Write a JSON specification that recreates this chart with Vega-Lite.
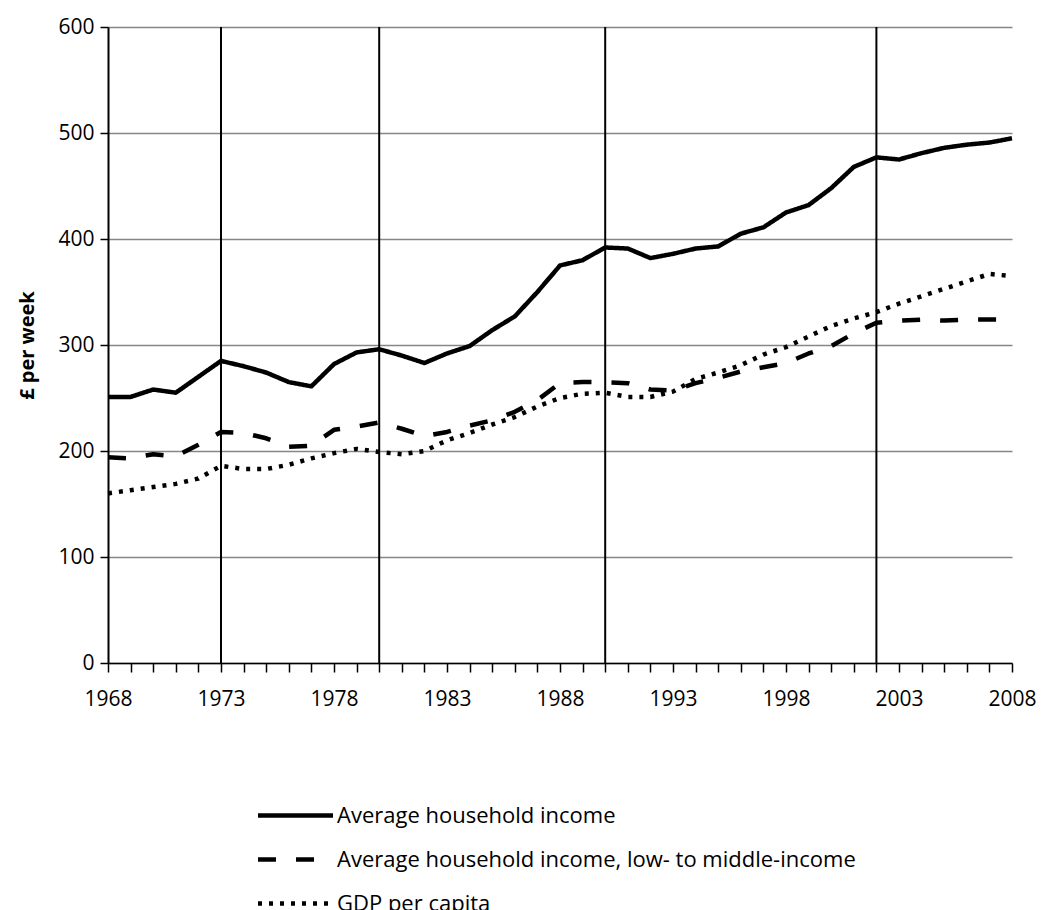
{
  "$schema": "https://vega.github.io/schema/vega-lite/v6.json",
  "autosize": {"type": "none"},
  "width": 904,
  "height": 636,
  "padding": {"left": 108, "top": 27, "right": 29, "bottom": 247},
  "background": "white",
  "config": {"view": {"stroke": null}, "font": "Open Sans"},
  "datasets": {
    "rules": [{"year": 1973}, {"year": 1980}, {"year": 1990}, {"year": 2002}],
    "series": [
      {"year": 1968, "series": "Average household income", "value": 251},
      {"year": 1969, "series": "Average household income", "value": 251},
      {"year": 1970, "series": "Average household income", "value": 258},
      {"year": 1971, "series": "Average household income", "value": 255},
      {"year": 1972, "series": "Average household income", "value": 270},
      {"year": 1973, "series": "Average household income", "value": 285},
      {"year": 1974, "series": "Average household income", "value": 280},
      {"year": 1975, "series": "Average household income", "value": 274},
      {"year": 1976, "series": "Average household income", "value": 265},
      {"year": 1977, "series": "Average household income", "value": 261},
      {"year": 1978, "series": "Average household income", "value": 282},
      {"year": 1979, "series": "Average household income", "value": 293},
      {"year": 1980, "series": "Average household income", "value": 296},
      {"year": 1981, "series": "Average household income", "value": 290},
      {"year": 1982, "series": "Average household income", "value": 283},
      {"year": 1983, "series": "Average household income", "value": 292},
      {"year": 1984, "series": "Average household income", "value": 299},
      {"year": 1985, "series": "Average household income", "value": 314},
      {"year": 1986, "series": "Average household income", "value": 327},
      {"year": 1987, "series": "Average household income", "value": 350},
      {"year": 1988, "series": "Average household income", "value": 375},
      {"year": 1989, "series": "Average household income", "value": 380},
      {"year": 1990, "series": "Average household income", "value": 392},
      {"year": 1991, "series": "Average household income", "value": 391},
      {"year": 1992, "series": "Average household income", "value": 382},
      {"year": 1993, "series": "Average household income", "value": 386},
      {"year": 1994, "series": "Average household income", "value": 391},
      {"year": 1995, "series": "Average household income", "value": 393},
      {"year": 1996, "series": "Average household income", "value": 405},
      {"year": 1997, "series": "Average household income", "value": 411},
      {"year": 1998, "series": "Average household income", "value": 425},
      {"year": 1999, "series": "Average household income", "value": 432},
      {"year": 2000, "series": "Average household income", "value": 448},
      {"year": 2001, "series": "Average household income", "value": 468},
      {"year": 2002, "series": "Average household income", "value": 477},
      {"year": 2003, "series": "Average household income", "value": 475},
      {"year": 2004, "series": "Average household income", "value": 481},
      {"year": 2005, "series": "Average household income", "value": 486},
      {"year": 2006, "series": "Average household income", "value": 489},
      {"year": 2007, "series": "Average household income", "value": 491},
      {"year": 2008, "series": "Average household income", "value": 495},
      {"year": 1968, "series": "Average household income, low- to middle-income", "value": 194},
      {"year": 1969, "series": "Average household income, low- to middle-income", "value": 193},
      {"year": 1970, "series": "Average household income, low- to middle-income", "value": 197},
      {"year": 1971, "series": "Average household income, low- to middle-income", "value": 195},
      {"year": 1972, "series": "Average household income, low- to middle-income", "value": 206},
      {"year": 1973, "series": "Average household income, low- to middle-income", "value": 218},
      {"year": 1974, "series": "Average household income, low- to middle-income", "value": 217},
      {"year": 1975, "series": "Average household income, low- to middle-income", "value": 212},
      {"year": 1976, "series": "Average household income, low- to middle-income", "value": 204},
      {"year": 1977, "series": "Average household income, low- to middle-income", "value": 205},
      {"year": 1978, "series": "Average household income, low- to middle-income", "value": 220},
      {"year": 1979, "series": "Average household income, low- to middle-income", "value": 223},
      {"year": 1980, "series": "Average household income, low- to middle-income", "value": 227},
      {"year": 1981, "series": "Average household income, low- to middle-income", "value": 221},
      {"year": 1982, "series": "Average household income, low- to middle-income", "value": 214},
      {"year": 1983, "series": "Average household income, low- to middle-income", "value": 218},
      {"year": 1984, "series": "Average household income, low- to middle-income", "value": 224},
      {"year": 1985, "series": "Average household income, low- to middle-income", "value": 229},
      {"year": 1986, "series": "Average household income, low- to middle-income", "value": 237},
      {"year": 1987, "series": "Average household income, low- to middle-income", "value": 248},
      {"year": 1988, "series": "Average household income, low- to middle-income", "value": 264},
      {"year": 1989, "series": "Average household income, low- to middle-income", "value": 265},
      {"year": 1990, "series": "Average household income, low- to middle-income", "value": 265},
      {"year": 1991, "series": "Average household income, low- to middle-income", "value": 264},
      {"year": 1992, "series": "Average household income, low- to middle-income", "value": 258},
      {"year": 1993, "series": "Average household income, low- to middle-income", "value": 257},
      {"year": 1994, "series": "Average household income, low- to middle-income", "value": 264},
      {"year": 1995, "series": "Average household income, low- to middle-income", "value": 269},
      {"year": 1996, "series": "Average household income, low- to middle-income", "value": 275},
      {"year": 1997, "series": "Average household income, low- to middle-income", "value": 279},
      {"year": 1998, "series": "Average household income, low- to middle-income", "value": 283},
      {"year": 1999, "series": "Average household income, low- to middle-income", "value": 292},
      {"year": 2000, "series": "Average household income, low- to middle-income", "value": 299},
      {"year": 2001, "series": "Average household income, low- to middle-income", "value": 311},
      {"year": 2002, "series": "Average household income, low- to middle-income", "value": 321},
      {"year": 2003, "series": "Average household income, low- to middle-income", "value": 323},
      {"year": 2004, "series": "Average household income, low- to middle-income", "value": 324},
      {"year": 2005, "series": "Average household income, low- to middle-income", "value": 323},
      {"year": 2006, "series": "Average household income, low- to middle-income", "value": 324},
      {"year": 2007, "series": "Average household income, low- to middle-income", "value": 324},
      {"year": 2008, "series": "Average household income, low- to middle-income", "value": 324},
      {"year": 1968, "series": "GDP per capita", "value": 160},
      {"year": 1969, "series": "GDP per capita", "value": 163},
      {"year": 1970, "series": "GDP per capita", "value": 166},
      {"year": 1971, "series": "GDP per capita", "value": 169},
      {"year": 1972, "series": "GDP per capita", "value": 174},
      {"year": 1973, "series": "GDP per capita", "value": 186},
      {"year": 1974, "series": "GDP per capita", "value": 183},
      {"year": 1975, "series": "GDP per capita", "value": 183},
      {"year": 1976, "series": "GDP per capita", "value": 187},
      {"year": 1977, "series": "GDP per capita", "value": 193},
      {"year": 1978, "series": "GDP per capita", "value": 198},
      {"year": 1979, "series": "GDP per capita", "value": 202},
      {"year": 1980, "series": "GDP per capita", "value": 199},
      {"year": 1981, "series": "GDP per capita", "value": 197},
      {"year": 1982, "series": "GDP per capita", "value": 200},
      {"year": 1983, "series": "GDP per capita", "value": 210},
      {"year": 1984, "series": "GDP per capita", "value": 217},
      {"year": 1985, "series": "GDP per capita", "value": 225},
      {"year": 1986, "series": "GDP per capita", "value": 232},
      {"year": 1987, "series": "GDP per capita", "value": 242},
      {"year": 1988, "series": "GDP per capita", "value": 250},
      {"year": 1989, "series": "GDP per capita", "value": 254},
      {"year": 1990, "series": "GDP per capita", "value": 255},
      {"year": 1991, "series": "GDP per capita", "value": 251},
      {"year": 1992, "series": "GDP per capita", "value": 251},
      {"year": 1993, "series": "GDP per capita", "value": 256},
      {"year": 1994, "series": "GDP per capita", "value": 268},
      {"year": 1995, "series": "GDP per capita", "value": 274},
      {"year": 1996, "series": "GDP per capita", "value": 281},
      {"year": 1997, "series": "GDP per capita", "value": 291},
      {"year": 1998, "series": "GDP per capita", "value": 298},
      {"year": 1999, "series": "GDP per capita", "value": 308},
      {"year": 2000, "series": "GDP per capita", "value": 318},
      {"year": 2001, "series": "GDP per capita", "value": 325},
      {"year": 2002, "series": "GDP per capita", "value": 331},
      {"year": 2003, "series": "GDP per capita", "value": 339},
      {"year": 2004, "series": "GDP per capita", "value": 346},
      {"year": 2005, "series": "GDP per capita", "value": 353},
      {"year": 2006, "series": "GDP per capita", "value": 360},
      {"year": 2007, "series": "GDP per capita", "value": 367},
      {"year": 2008, "series": "GDP per capita", "value": 365}
    ]
  },
  "layer": [
    {
      "data": {"name": "rules"},
      "mark": {"type": "rule", "color": "black", "strokeWidth": 2},
      "encoding": {
        "x": {"field": "year", "type": "quantitative", "scale": {"domain": [1968, 2008], "nice": false, "zero": false}}
      }
    },
    {
      "data": {"name": "series"},
      "mark": {"type": "line", "color": "black", "strokeWidth": 4.5, "strokeJoin": "round"},
      "encoding": {
        "x": {
          "field": "year",
          "type": "quantitative",
          "scale": {"domain": [1968, 2008], "nice": false, "zero": false},
          "axis": {
            "title": null,
            "values": [1968,1969,1970,1971,1972,1973,1974,1975,1976,1977,1978,1979,1980,1981,1982,1983,1984,1985,1986,1987,1988,1989,1990,1991,1992,1993,1994,1995,1996,1997,1998,1999,2000,2001,2002,2003,2004,2005,2006,2007,2008],
            "tickCount": 100,
            "labelExpr": "(datum.value - 1968) % 5 == 0 ? format(datum.value, 'd') : ''",
            "grid": false,
            "domainColor": "black",
            "domainWidth": 1.5,
            "tickColor": "black",
            "tickWidth": 1.5,
            "tickSize": 9,
            "labelFontSize": 21,
            "labelColor": "black",
            "labelPadding": 16,
            "labelFlush": false,
            "labelOverlap": false
          }
        },
        "y": {
          "field": "value",
          "type": "quantitative",
          "scale": {"domain": [0, 600], "nice": false},
          "axis": {
            "title": "£ per week",
            "titleFontSize": 20,
            "titleFontWeight": "bold",
            "titleColor": "black",
            "titlePadding": 20,
            "values": [0, 100, 200, 300, 400, 500, 600],
            "grid": true,
            "gridColor": "#868686",
            "gridWidth": 1.5,
            "domainColor": "black",
            "domainWidth": 2,
            "tickColor": "black",
            "tickWidth": 1.5,
            "tickSize": 8,
            "labelFontSize": 21,
            "labelColor": "black",
            "labelPadding": 6
          }
        },
        "strokeDash": {
          "field": "series",
          "type": "nominal",
          "scale": {
            "domain": ["Average household income", "Average household income, low- to middle-income", "GDP per capita"],
            "range": [[1, 0], [18, 20], [4, 7]]
          },
          "legend": {
            "title": null,
            "orient": "none",
            "legendX": 168,
            "legendY": 769,
            "direction": "vertical",
            "symbolType": "M -2.2 0 H 2.2",
            "symbolSize": 1162,
            "symbolStrokeWidth": 4.5,
            "symbolStrokeColor": "black",
            "symbolFillColor": "transparent",
            "labelFontSize": 22,
            "labelColor": "black",
            "labelOffset": 22,
            "labelLimit": 0,
            "rowPadding": 13
          }
        }
      }
    }
  ]
}
